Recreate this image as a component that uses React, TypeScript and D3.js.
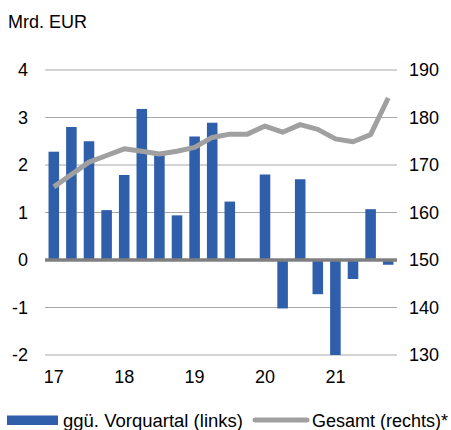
import React from 'react';
import * as d3 from 'd3';

// quarters 17Q1 .. 21Q4
const quarters = [
  '17Q1', '17Q2', '17Q3', '17Q4',
  '18Q1', '18Q2', '18Q3', '18Q4',
  '19Q1', '19Q2', '19Q3', '19Q4',
  '20Q1', '20Q2', '20Q3', '20Q4',
  '21Q1', '21Q2', '21Q3', '21Q4',
];
// change vs previous quarter (left axis, bn EUR)
const changeValues = [
  2.28, 2.8, 2.5, 1.05, 1.79, 3.18, 2.25, 0.94, 2.6, 2.89,
  1.23, 0.0, 1.8, -1.02, 1.7, -0.72, -2.0, -0.4, 1.07, -0.1,
];
// total (right axis)
const totalValues = [
  165.4, 168.0, 170.6, 172.0, 173.4, 172.9, 172.3, 172.9, 173.7, 175.8,
  176.5, 176.5, 178.2, 176.9, 178.5, 177.5, 175.5, 174.9, 176.4, 184.1,
];
const leftTicks = [-2, -1, 0, 1, 2, 3, 4];
const rightTicks = [130, 140, 150, 160, 170, 180, 190];
const yearLabels = [
  { q: '17Q1', label: '17' },
  { q: '18Q1', label: '18' },
  { q: '19Q1', label: '19' },
  { q: '20Q1', label: '20' },
  { q: '21Q1', label: '21' },
];

const width = 451;
const height = 430;
const plot = { left: 45, right: 397, top: 70, bottom: 355 };
const font = 'Liberation Sans, Arial, sans-serif';
const barColor = '#2f5eab';
const lineColor = '#a0a0a0';

export default function App() {
  const x = d3.scaleBand<string>()
    .domain(quarters)
    .range([plot.left, plot.right])
    .paddingInner(0.4)
    .paddingOuter(0.2);
  const xc = (q: string) => (x(q) as number) + x.bandwidth() / 2;

  const yL = d3.scaleLinear().domain([-2, 4]).range([plot.bottom, plot.top]);
  const yR = d3.scaleLinear().domain([130, 190]).range([plot.bottom, plot.top]);

  const line = d3.line<number>()
    .x((_, i) => xc(quarters[i]))
    .y(d => yR(d));

  return (
    <svg width={width} height={height} style={{ position: 'absolute', left: 0, top: 0 }}>
      <rect width={width} height={height} fill="#fff" />
      <text x={8} y={28} fontFamily={font} fontSize={18} fill="#000">Mrd. EUR</text>

      {leftTicks.map(t => (
        <line key={'g' + t} x1={plot.left} x2={plot.right} y1={yL(t)} y2={yL(t)}
          stroke="#a8a8a8" strokeWidth={1.2} />
      ))}
      {leftTicks.map(t => (
        <text key={'l' + t} x={28} y={yL(t)} dy="0.35em" textAnchor="end"
          fontFamily={font} fontSize={18} fill="#000">{t}</text>
      ))}
      {rightTicks.map(t => (
        <text key={'r' + t} x={409} y={yR(t)} dy="0.35em" textAnchor="start"
          fontFamily={font} fontSize={18} fill="#000">{t}</text>
      ))}

      {changeValues.map((v, i) => (
        <rect key={quarters[i]} x={x(quarters[i])} width={x.bandwidth()}
          y={yL(Math.max(0, v))} height={Math.abs(yL(v) - yL(0))} fill={barColor} />
      ))}

      <line x1={plot.left} x2={plot.right} y1={yL(0)} y2={yL(0)} stroke="#7f7f7f" strokeWidth={3.5} />

      <path d={line(totalValues) || ''} fill="none" stroke={lineColor} strokeWidth={5}
        strokeLinejoin="round" />

      {yearLabels.map(d => (
        <text key={d.label} x={xc(d.q)} y={383} textAnchor="middle"
          fontFamily={font} fontSize={18} fill="#000">{d.label}</text>
      ))}

      <rect x={7} y={415.5} width={51} height={9.5} fill={barColor} />
      <text x={63} y={427} fontFamily={font} fontSize={18.5} fill="#000">ggü. Vorquartal (links)</text>
      <line x1={255} x2={307} y1={420} y2={420} stroke={lineColor} strokeWidth={5} strokeLinecap="round" />
      <text x={312} y={427} fontFamily={font} fontSize={18} fill="#000">Gesamt (rechts)*</text>
    </svg>
  );
}
